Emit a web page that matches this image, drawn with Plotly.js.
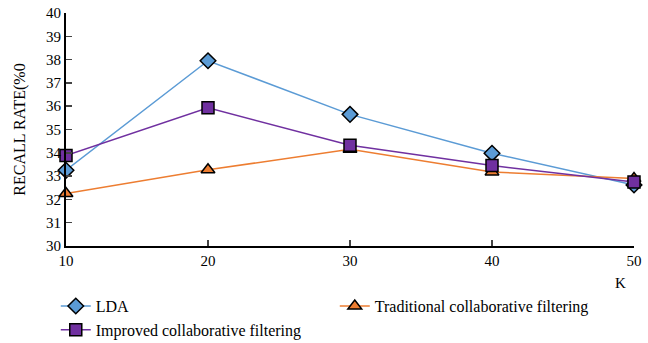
<!DOCTYPE html>
<html><head><meta charset="utf-8">
<script src="https://cdn.plot.ly/plotly-3.0.1.min.js"></script>
<style>html,body{margin:0;padding:0;background:#fff}</style>
</head><body>
<div id="chart" style="width:648px;height:343px"></div>
<script>
const kValues = [10, 20, 30, 40, 50];
const ldaRecall = [33.25, 37.95, 35.65, 33.98, 32.62];
const traditionalRecall = [32.25, 33.27, 34.15, 33.18, 32.9];
const improvedRecall = [33.88, 35.93, 34.32, 33.45, 32.75];
const seriesNames = ["LDA", "Traditional collaborative filtering", "Improved collaborative filtering"];
const yTicks = [30,31,32,33,34,35,36,37,38,39,40];

const font = {family: "Liberation Serif", color: "#000"};
const traces = [
  {x: kValues, y: ldaRecall, name: seriesNames[0], mode: "lines+markers",
   line: {color: "#5B9BD5", width: 1.5},
   marker: {symbol: "diamond", size: 12, color: "#5B9BD5", line: {color: "#000", width: 1.5}}},
  {x: kValues, y: traditionalRecall, name: seriesNames[1], mode: "lines+markers",
   line: {color: "#ED7D31", width: 1.5},
   marker: {symbol: "triangle-up", size: 12, color: "#ED7D31", line: {color: "#000", width: 1.5}}},
  {x: kValues, y: improvedRecall, name: seriesNames[2], mode: "lines+markers",
   line: {color: "#7030A0", width: 1.5},
   marker: {symbol: "square", size: 12, color: "#7030A0", line: {color: "#000", width: 1.5}}}
];
const layout = {
  width: 648, height: 343,
  margin: {l: 66, r: 14, t: 13, b: 97, autoexpand: false},
  paper_bgcolor: "#fff", plot_bgcolor: "#fff",
  font: Object.assign({size: 15}, font),
  showlegend: true,
  legend: {orientation: "h", x: -0.018, xanchor: "left", y: -0.185, yanchor: "top",
    entrywidth: 234, entrywidthmode: "pixels", font: Object.assign({size: 16}, font),
    traceorder: "normal", itemwidth: 30, tracegroupgap: 0},
  xaxis: {range: [10, 50], tickvals: kValues, ticks: "inside", ticklen: 6, tickwidth: 1.5,
    showline: true, linecolor: "#000", linewidth: 2, showgrid: false, zeroline: false,
    tickfont: Object.assign({size: 15}, font), fixedrange: true},
  yaxis: {range: [30, 40], tickvals: yTicks, ticks: "inside", ticklen: 6, tickwidth: 1.5,
    showline: true, linecolor: "#000", linewidth: 2, showgrid: false, zeroline: false,
    tickfont: Object.assign({size: 15}, font),
    title: {text: "RECALL RATE(%0", font: Object.assign({size: 16}, font), standoff: 16}},
  annotations: [{text: "K", xref: "paper", yref: "paper", x: 0.977, y: -0.16, xanchor: "center",
    yanchor: "middle", showarrow: false, font: Object.assign({size: 15}, font)}]
};
traces.forEach(t => t.cliponaxis = false);
Plotly.newPlot("chart", traces, layout, {displayModeBar: false, staticPlot: true});
</script>
</body></html>
